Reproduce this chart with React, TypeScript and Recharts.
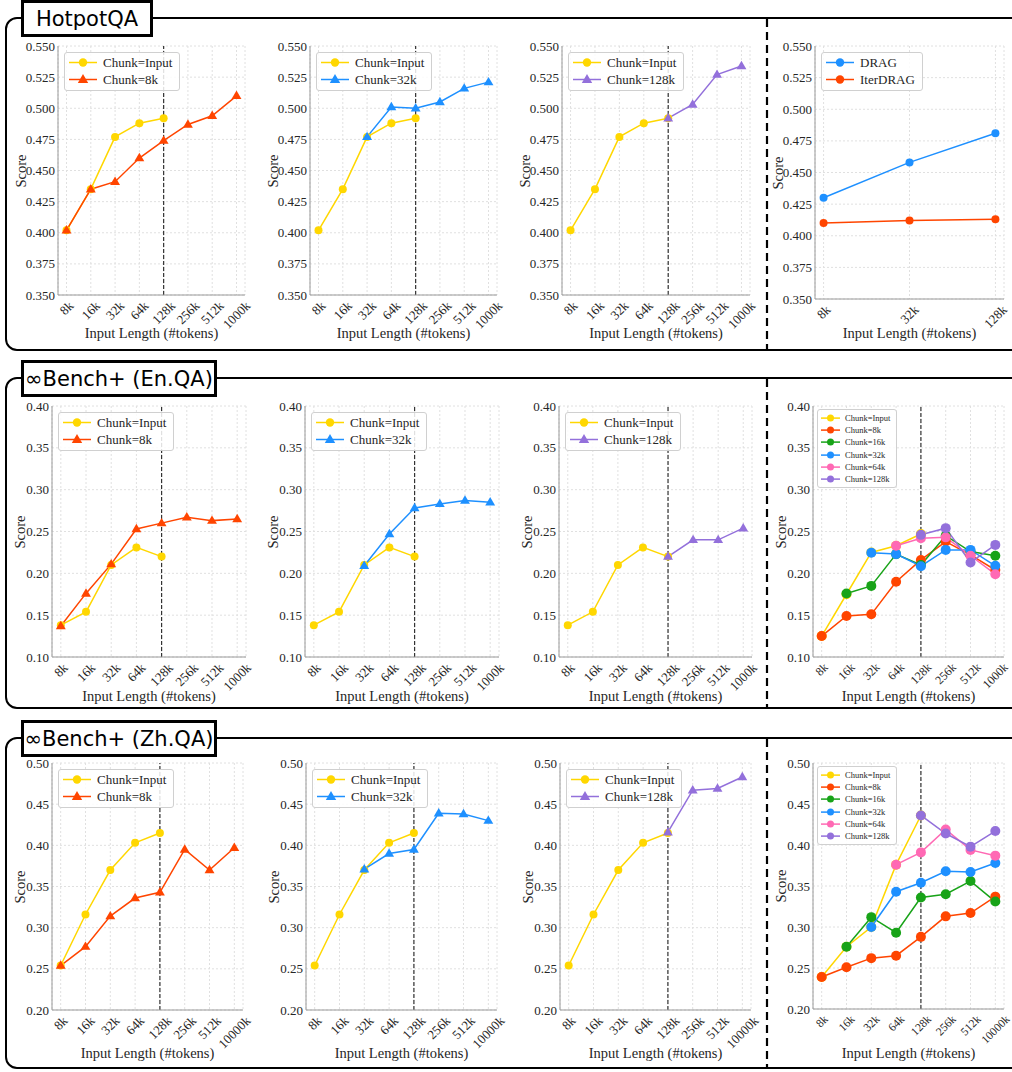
import React from 'react';
import { LineChart, Line, XAxis, YAxis, CartesianGrid, ReferenceLine } from 'recharts';

// tick labels
const xLong = ['8k', '16k', '32k', '64k', '128k', '256k', '512k', '1000k'];
const xLongZh = ['8k', '16k', '32k', '64k', '128k', '256k', '512k', '10000k'];
const xDrag = ['8k', '32k', '128k'];

const yTicksHotpot = [0.35, 0.375, 0.4, 0.425, 0.45, 0.475, 0.5, 0.525, 0.55];
const yTicksEn = [0.1, 0.15, 0.2, 0.25, 0.3, 0.35, 0.4];
const yTicksZh = [0.2, 0.25, 0.3, 0.35, 0.4, 0.45, 0.5];

// HotpotQA
const hotpotInput = [0.402, 0.435, 0.477, 0.488, 0.492, null, null, null];
const hotpotChunk8k = [0.402, 0.435, 0.441, 0.46, 0.474, 0.487, 0.494, 0.51];
const hotpotChunk32k = [null, null, 0.477, 0.501, 0.5, 0.505, 0.516, 0.521];
const hotpotChunk128k = [null, null, null, null, 0.492, 0.503, 0.527, 0.534];
const hotpotDrag = [0.43, 0.458, 0.481];
const hotpotIterDrag = [0.41, 0.412, 0.413];

// InfBench En.QA
const enInput = [0.138, 0.154, 0.21, 0.231, 0.22, null, null, null];
const enChunk8k = [0.137, 0.176, 0.211, 0.253, 0.26, 0.267, 0.263, 0.265];
const enChunk32k = [null, null, 0.209, 0.247, 0.278, 0.283, 0.287, 0.285];
const enChunk128k = [null, null, null, null, 0.22, 0.24, 0.24, 0.254];
const enAllInput = [0.125, 0.175, 0.225, 0.233, 0.247, null, null, null];
const enAll8k = [0.125, 0.149, 0.151, 0.19, 0.216, 0.238, 0.222, 0.204];
const enAll16k = [null, 0.176, 0.185, 0.223, 0.21, 0.245, 0.226, 0.221];
const enAll32k = [null, null, 0.2245, 0.223, 0.2085, 0.228, 0.228, 0.209];
const enAll64k = [null, null, null, 0.233, 0.242, 0.243, 0.221, 0.199];
const enAll128k = [null, null, null, null, 0.246, 0.254, 0.213, 0.234];

// InfBench Zh.QA
const zhInput = [0.254, 0.316, 0.37, 0.403, 0.415, null, null, null];
const zhChunk8k = [0.254, 0.277, 0.314, 0.336, 0.343, 0.395, 0.37, 0.397];
const zhChunk32k = [null, null, 0.371, 0.39, 0.395, 0.439, 0.438, 0.43];
const zhChunk128k = [null, null, null, null, 0.416, 0.467, 0.469, 0.483];
const zhAllInput = [0.239, 0.276, 0.3, 0.376, 0.436, null, null, null];
const zhAll8k = [0.239, 0.251, 0.262, 0.265, 0.288, 0.313, 0.317, 0.337];
const zhAll16k = [null, 0.276, 0.312, 0.293, 0.336, 0.34, 0.356, 0.331];
const zhAll32k = [null, null, 0.3, 0.343, 0.354, 0.368, 0.367, 0.378];
const zhAll64k = [null, null, null, 0.376, 0.391, 0.419, 0.394, 0.387];
const zhAll128k = [null, null, null, null, 0.436, 0.414, 0.398, 0.417];

const C_INPUT = '#FFD700';
const C_8K = '#FF4500';
const C_16K = '#18A318';
const C_32K = '#1E90FF';
const C_64K = '#FF69B4';
const C_128K = '#9370DB';

const SERIF = '"Liberation Serif", "Times New Roman", serif';
const TEXT = '#262626';

type Series = { name: string; color: string; shape: 'circle' | 'triangle'; values: (number | null)[] };

const inp = (v: (number | null)[]): Series => ({ name: 'Chunk=Input', color: C_INPUT, shape: 'circle', values: v });
const tri = (name: string, color: string, v: (number | null)[]): Series => ({ name, color, shape: 'triangle', values: v });
const dot = (name: string, color: string, v: (number | null)[]): Series => ({ name, color, shape: 'circle', values: v });

const allSeries = (a: any[], b: any[], c: any[], d: any[], e: any[], f: any[]): Series[] => [
  dot('Chunk=Input', C_INPUT, a),
  dot('Chunk=8k', C_8K, b),
  dot('Chunk=16k', C_16K, c),
  dot('Chunk=32k', C_32K, d),
  dot('Chunk=64k', C_64K, e),
  dot('Chunk=128k', C_128K, f),
];

function Marker({ shape, color, cx, cy, r }: { shape: string; color: string; cx: number; cy: number; r: number }) {
  if (shape === 'triangle') {
    const s = r * 1.3;
    return <polygon points={`${cx},${cy - s} ${cx - s * 0.95},${cy + s * 0.62} ${cx + s * 0.95},${cy + s * 0.62}`} fill={color} />;
  }
  return <circle cx={cx} cy={cy} r={r} fill={color} />;
}

const makeDot = (s: Series, r: number) => (props: any) => {
  const { cx, cy, index } = props;
  if (cx == null || cy == null || s.values[index] == null) return <g key={`d${index}`} />;
  return (
    <g key={`d${index}`}>
      <Marker shape={s.shape} color={s.color} cx={cx} cy={cy} r={r} />
    </g>
  );
};

function RotTick(props: any) {
  const { x, y, payload, labels, fs } = props;
  const label = labels[payload.value];
  const L = label.length * fs * 0.5;
  const half = ((L + fs * 0.75) * 0.7071) / 2;
  const cy = y + 5 + half;
  return (
    <text x={x} y={cy} transform={`rotate(-45 ${x} ${cy})`} textAnchor="middle" dominantBaseline="central" fontSize={fs} fill={TEXT} fontFamily={SERIF}>
      {label}
    </text>
  );
}

function LegendBox({ series, small, left, top }: { series: Series[]; small: boolean; left: number; top: number }) {
  const rowH = small ? 12.2 : 17;
  const iconW = small ? 19 : 28;
  const r = small ? 3.5 : 4.2;
  const fs = small ? 8.5 : 13;
  return (
    <div
      style={{
        position: 'absolute',
        left,
        top,
        padding: small ? '2px 6px 2px 3px' : '1px 7px 2px 4px',
        border: '1px solid #d0d0d0',
        borderRadius: 3,
        background: 'rgba(255,255,255,0.85)',
        fontFamily: SERIF,
        fontSize: fs,
        color: TEXT,
        whiteSpace: 'nowrap',
      }}
    >
      {series.map((s) => (
        <div key={s.name} style={{ height: rowH, display: 'flex', alignItems: 'center' }}>
          <svg width={iconW} height={rowH} style={{ marginRight: small ? 5 : 6 }}>
            <line x1={0} x2={iconW} y1={rowH / 2} y2={rowH / 2} stroke={s.color} strokeWidth={1.5} />
            <Marker shape={s.shape} color={s.color} cx={iconW / 2} cy={rowH / 2} r={r} />
          </svg>
          <span>{s.name}</span>
        </div>
      ))}
    </div>
  );
}

type PanelProps = {
  x: number;
  y: number;
  w: number;
  h: number;
  labels: string[];
  domain: [number, number];
  ticks: number[];
  digits: number;
  series: Series[];
  refAt?: number;
  small?: boolean;
  markerR: number;
  scoreDx: number;
  xLabelY: number;
  tickFs?: number;
};

function Panel({ x, y, w, h, labels, domain, ticks, digits, series, refAt, small = false, markerR, scoreDx, xLabelY, tickFs = 13 }: PanelProps) {
  const n = labels.length;
  const pad = (n - 1) * 0.05;
  const data = labels.map((_, i) => {
    const row: any = { i };
    series.forEach((s, k) => {
      row['s' + k] = s.values[i];
    });
    return row;
  });
  return (
    <>
      <div style={{ position: 'absolute', left: x - 50, top: y - 10 }}>
        <LineChart width={w + 60} height={h + 60} data={data} margin={{ top: 10, right: 10, left: 0, bottom: 0 }}>
          <CartesianGrid stroke="#e0e0e0" strokeDasharray="2 2" />
          <XAxis
            type="number"
            dataKey="i"
            domain={[-pad, n - 1 + pad]}
            ticks={labels.map((_, i) => i)}
            interval={0}
            height={50}
            tickLine={false}
            tickSize={0}
            tickMargin={0}
            axisLine={{ stroke: '#9a9a9a' }}
            tick={(p: any) => <RotTick {...p} labels={labels} fs={tickFs} />}
          />
          <YAxis
            type="number"
            domain={domain}
            ticks={ticks}
            interval={0}
            width={50}
            tickLine={false}
            tickSize={0}
            tickMargin={3}
            axisLine={{ stroke: '#9a9a9a' }}
            tickFormatter={(v: number) => v.toFixed(digits)}
            tick={{ fontSize: 13, fill: TEXT, fontFamily: SERIF }}
          />
          {refAt != null && <ReferenceLine x={refAt} stroke="#333" strokeDasharray="4 2" strokeWidth={1.2} />}
          {series.map((s, k) => (
            <Line
              key={s.name}
              type="linear"
              dataKey={'s' + k}
              stroke={s.color}
              strokeWidth={1.5}
              dot={makeDot(s, markerR)}
              activeDot={false}
              isAnimationActive={false}
            />
          ))}
        </LineChart>
      </div>
      <LegendBox series={series} small={small} left={x + (small ? 4 : 6)} top={y + (small ? 3 : 6)} />
      <div
        style={{
          position: 'absolute',
          left: x - scoreDx - 30,
          top: y + h / 2 - 9,
          width: 60,
          height: 18,
          lineHeight: '18px',
          textAlign: 'center',
          transform: 'rotate(-90deg)',
          fontFamily: SERIF,
          fontSize: 14.5,
          color: TEXT,
        }}
      >
        Score
      </div>
      <div
        style={{
          position: 'absolute',
          left: x + w / 2 - 100,
          top: xLabelY - 9,
          width: 200,
          height: 18,
          lineHeight: '18px',
          textAlign: 'center',
          fontFamily: SERIF,
          fontSize: 14.5,
          color: TEXT,
        }}
      >
        Input Length (#tokens)
      </div>
    </>
  );
}

function Section({ top, height, title, titleW }: { top: number; height: number; title: string; titleW: number }) {
  return (
    <>
      <div
        style={{
          position: 'absolute',
          left: 5,
          top: top - 1,
          width: 1100,
          height,
          border: '2.5px solid #000',
          borderRadius: 12,
          boxSizing: 'border-box',
        }}
      />
      <div
        style={{
          position: 'absolute',
          left: 21,
          top: top - 18,
          width: titleW,
          height: 37,
          border: '3px solid #000',
          background: '#fff',
          boxSizing: 'border-box',
          display: 'flex',
          alignItems: 'center',
          justifyContent: 'center',
          fontFamily: '"DejaVu Sans", Verdana, sans-serif',
          fontSize: 21,
          color: '#000',
          zIndex: 2,
        }}
      >
        {title}
      </div>
    </>
  );
}

export default function App() {
  return (
    <div style={{ position: 'absolute', left: 0, top: 0, width: 1012, height: 1072, overflow: 'hidden', background: '#fff' }}>
      <Section top={18} height={334} title="HotpotQA" titleW={132} />
      <Section top={378} height={332} title="∞Bench+ (En.QA)" titleW={196} />
      <Section top={738} height={332} title="∞Bench+ (Zh.QA)" titleW={196} />
      <svg width={1012} height={1072} style={{ position: 'absolute', left: 0, top: 0 }}>
        <line x1={767} x2={767} y1={19} y2={350} stroke="#000" strokeWidth={2.2} strokeDasharray="8 5" />
        <line x1={767} x2={767} y1={379} y2={708} stroke="#000" strokeWidth={2.2} strokeDasharray="8 5" />
        <line x1={767} x2={767} y1={739} y2={1068} stroke="#000" strokeWidth={2.2} strokeDasharray="8 5" />
      </svg>

      {/* Row 1: HotpotQA */}
      <Panel x={58} y={46} w={187} h={249} labels={xLong} domain={[0.35, 0.55]} ticks={yTicksHotpot} digits={3}
        series={[inp(hotpotInput), tri('Chunk=8k', C_8K, hotpotChunk8k)]} refAt={4} markerR={4} scoreDx={37} xLabelY={333} />
      <Panel x={310} y={46} w={187} h={249} labels={xLong} domain={[0.35, 0.55]} ticks={yTicksHotpot} digits={3}
        series={[inp(hotpotInput), tri('Chunk=32k', C_32K, hotpotChunk32k)]} refAt={4} markerR={4} scoreDx={37} xLabelY={333} />
      <Panel x={562} y={46} w={188} h={249} labels={xLong} domain={[0.35, 0.55]} ticks={yTicksHotpot} digits={3}
        series={[inp(hotpotInput), tri('Chunk=128k', C_128K, hotpotChunk128k)]} refAt={4} markerR={4} scoreDx={37} xLabelY={333} />
      <Panel x={815} y={46} w={189} h={253} labels={xDrag} domain={[0.35, 0.55]} ticks={yTicksHotpot} digits={3}
        series={[dot('DRAG', C_32K, hotpotDrag), dot('IterDRAG', C_8K, hotpotIterDrag)]} markerR={4} scoreDx={37} xLabelY={333} />

      {/* Row 2: En.QA */}
      <Panel x={52} y={406} w={194} h={251} labels={xLong} domain={[0.1, 0.4]} ticks={yTicksEn} digits={2}
        series={[inp(enInput), tri('Chunk=8k', C_8K, enChunk8k)]} refAt={4} markerR={4} scoreDx={32} xLabelY={696} />
      <Panel x={305} y={406} w={194} h={251} labels={xLong} domain={[0.1, 0.4]} ticks={yTicksEn} digits={2}
        series={[inp(enInput), tri('Chunk=32k', C_32K, enChunk32k)]} refAt={4} markerR={4} scoreDx={32} xLabelY={696} />
      <Panel x={559} y={406} w={193} h={251} labels={xLong} domain={[0.1, 0.4]} ticks={yTicksEn} digits={2}
        series={[inp(enInput), tri('Chunk=128k', C_128K, enChunk128k)]} refAt={4} markerR={4} scoreDx={32} xLabelY={696} />
      <Panel x={813} y={406} w={191} h={251} labels={xLong} domain={[0.1, 0.4]} ticks={yTicksEn} digits={2}
        series={allSeries(enAllInput, enAll8k, enAll16k, enAll32k, enAll64k, enAll128k)} refAt={4} small markerR={5} scoreDx={32} xLabelY={696} tickFs={12} />

      {/* Row 3: Zh.QA */}
      <Panel x={52} y={763} w={191} h={247} labels={xLongZh} domain={[0.2, 0.5]} ticks={yTicksZh} digits={2}
        series={[inp(zhInput), tri('Chunk=8k', C_8K, zhChunk8k)]} refAt={4} markerR={4} scoreDx={32} xLabelY={1053} />
      <Panel x={306} y={763} w={191} h={247} labels={xLongZh} domain={[0.2, 0.5]} ticks={yTicksZh} digits={2}
        series={[inp(zhInput), tri('Chunk=32k', C_32K, zhChunk32k)]} refAt={4} markerR={4} scoreDx={32} xLabelY={1053} />
      <Panel x={560} y={763} w={191} h={247} labels={xLongZh} domain={[0.2, 0.5]} ticks={yTicksZh} digits={2}
        series={[inp(zhInput), tri('Chunk=128k', C_128K, zhChunk128k)]} refAt={4} markerR={4} scoreDx={32} xLabelY={1053} />
      <Panel x={813} y={763} w={191} h={246} labels={xLongZh} domain={[0.2, 0.5]} ticks={yTicksZh} digits={2}
        series={allSeries(zhAllInput, zhAll8k, zhAll16k, zhAll32k, zhAll64k, zhAll128k)} refAt={4} small markerR={5} scoreDx={32} xLabelY={1053} tickFs={11.5} />
    </div>
  );
}
